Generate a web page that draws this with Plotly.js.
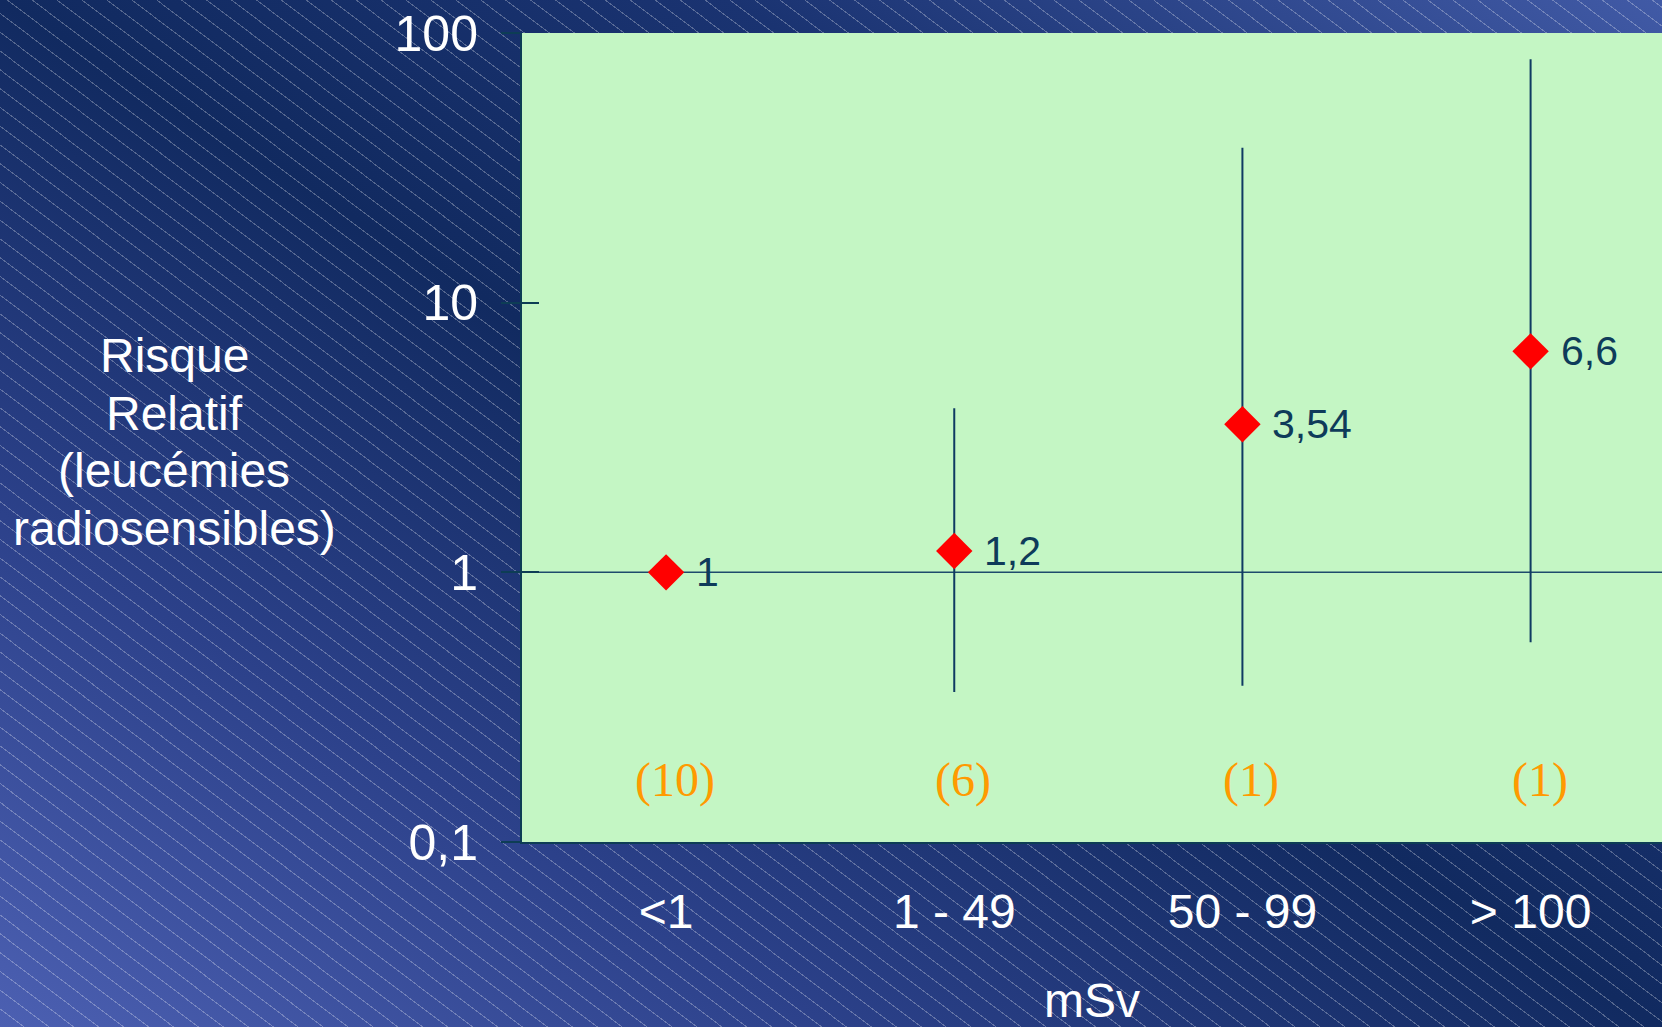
<!DOCTYPE html>
<html>
<head>
<meta charset="utf-8">
<script src="https://cdn.plot.ly/plotly-3.0.1.min.js"></script>
<style>
  html, body { margin: 0; padding: 0; overflow: hidden; }
  body {
    width: 1662px; height: 1027px;
    background:
      repeating-linear-gradient(37deg, rgba(255,255,255,0) 0px, rgba(255,255,255,0) 14px, rgba(255,255,255,0.28) 14px, rgba(255,255,255,0.28) 15px),
      linear-gradient(to top right, #4c60b2 0%, #2c418a 25%, #112a60 50%, #1a3371 72%, #415aa6 100%);
  }
  #chart { width: 1662px; height: 1027px; }
</style>
</head>
<body>
<div id="chart"></div>
<script>
// ---- data ----
const categories = ["<1", "1 - 49", "50 - 99", "> 100"];
const rr = [1, 1.2, 3.54, 6.6];
const rrLabels = ["1", "1,2", "3,54", "6,6"];
const ciLow = [1, 0.36, 0.38, 0.55];
const ciHigh = [1, 4.06, 37.5, 80];
const caseCounts = ["(10)", "(6)", "(1)", "(1)"];
const countLabelY = 0.17;
const referenceRR = 1;
const yTickVals = [0.1, 1, 10, 100];
const yTickText = ["0,1", "1", "10", "100"];
const yTitleLines = ["Risque", "Relatif", "(leucémies", "radiosensibles)"];

const xIdx = categories.map((c, i) => i);

const axisColor = "#0d3d55";
const textDark = "#0e3b5a";
const sans = "Liberation Sans, Arial, sans-serif";

const trace = {
  x: xIdx,
  y: rr,
  type: "scatter",
  mode: "markers",
  marker: { symbol: "diamond", size: 28, color: "#ff0000", line: { width: 0 } },
  error_y: {
    type: "data",
    symmetric: false,
    array: rr.map((v, i) => ciHigh[i] - v),
    arrayminus: rr.map((v, i) => v - ciLow[i]),
    color: "#0f3a62",
    thickness: 2,
    width: 0
  },
  hoverinfo: "skip",
  showlegend: false
};

const annotations = [];
rr.forEach((v, i) => {
  annotations.push({
    x: i, y: Math.log10(v), xref: "x", yref: "y",
    text: rrLabels[i], showarrow: false,
    xanchor: "left", yanchor: "middle", xshift: 28,
    font: { family: sans, size: 41, color: textDark }
  });
  annotations.push({
    x: i, y: Math.log10(countLabelY), xref: "x", yref: "y",
    text: caseCounts[i], showarrow: false,
    xanchor: "center", yanchor: "middle", xshift: 9,
    font: { family: "Liberation Serif, Times New Roman, serif", size: 48, color: "#ff9a00" }
  });
});
yTitleLines.forEach((line, i) => {
  annotations.push({
    x: -0.305, y: 0.4943, xref: "paper", yref: "paper",
    yshift: (1.5 - i) * 57.6,
    text: line,
    showarrow: false, xanchor: "center", yanchor: "middle", align: "center",
    font: { family: sans, size: 48, color: "#ffffff" }
  });
});

const layout = {
  width: 1662, height: 1027,
  margin: { l: 522, r: 0, t: 33, b: 185, pad: 0 },
  paper_bgcolor: "rgba(0,0,0,0)",
  plot_bgcolor: "#c4f6c4",
  showlegend: false,
  xaxis: {
    range: [-0.5, 3.456],
    tickvals: xIdx,
    ticktext: categories,
    ticks: "",
    ticklabelstandoff: 26,
    tickfont: { family: sans, size: 48, color: "#ffffff" },
    showgrid: false, zeroline: false,
    showline: true, linecolor: axisColor, linewidth: 2,
    title: {
      text: "mSv",
      standoff: 56,
      font: { family: sans, size: 48, color: "#ffffff" }
    },
    fixedrange: true
  },
  yaxis: {
    type: "log",
    range: [-1, 2],
    tickvals: yTickVals,
    ticktext: yTickText,
    ticks: "outside", ticklen: 19, tickwidth: 2, tickcolor: axisColor,
    ticklabelstandoff: 13,
    tickfont: { family: sans, size: 50, color: "#ffffff" },
    showgrid: false, zeroline: false,
    showline: true, linecolor: axisColor, linewidth: 2,
    fixedrange: true
  },
  yaxis2: {
    type: "log",
    range: [-1, 2],
    overlaying: "y",
    side: "left",
    tickvals: yTickVals,
    ticks: "inside", ticklen: 17, tickwidth: 2, tickcolor: axisColor,
    showticklabels: false,
    showgrid: false, zeroline: false, showline: false,
    fixedrange: true
  },
  shapes: [{
    type: "line", xref: "paper", x0: 0, x1: 1,
    yref: "y", y0: referenceRR, y1: referenceRR,
    line: { color: "#1d4a6c", width: 1.5 },
    layer: "below"
  }],
  annotations: annotations
};

const anchorTrace = { x: [0], y: [1], yaxis: "y2", type: "scatter", mode: "markers",
  marker: { opacity: 0 }, hoverinfo: "skip", showlegend: false };

Plotly.newPlot("chart", [anchorTrace, trace], layout, { displayModeBar: false, staticPlot: true });
</script>
</body>
</html>
